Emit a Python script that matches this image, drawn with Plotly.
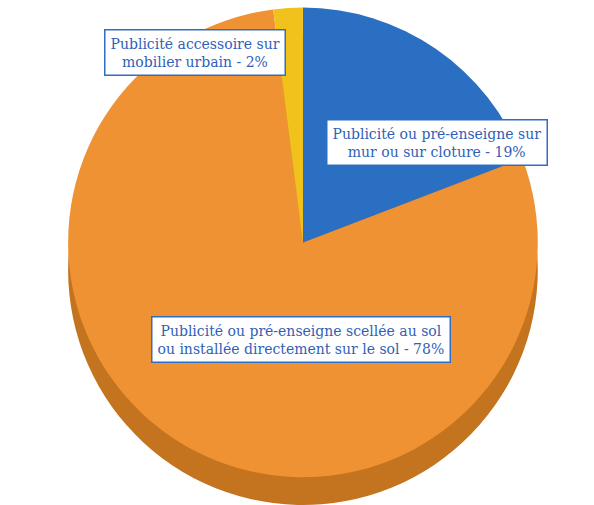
import plotly.graph_objects as go

labels = [
    "Publicité ou pré-enseigne sur<br>mur ou sur cloture",
    "Publicité ou pré-enseigne scellée au sol<br>ou installée directement sur le sol",
    "Publicité accessoire sur<br>mobilier urbain",
]
values = [19, 78, 2]
colors = ["#2b6fc2", "#ef9234", "#f1c21b"]
side_colors = ["#1f55a0", "#c4731f", "#c99d10"]
label_pos = [(0.736, 0.717), (0.507, 0.327), (0.328, 0.897)]

fig = go.Figure()
# darker copy shifted down to mimic the 3D side of the pie
fig.add_trace(go.Pie(
    labels=labels, values=values, sort=False, direction="clockwise", rotation=0,
    marker=dict(colors=side_colors, line=dict(width=0)),
    textinfo="none", hoverinfo="skip", showlegend=False,
    domain=dict(x=[0.02, 1], y=[0.0, 0.93]),
))
fig.add_trace(go.Pie(
    labels=labels, values=values, sort=False, direction="clockwise", rotation=0,
    marker=dict(colors=colors, line=dict(width=0)),
    textinfo="none", showlegend=False,
    domain=dict(x=[0.02, 1], y=[0.055, 0.985]),
))

for lab, val, (ax, ay) in zip(labels, values, label_pos):
    fig.add_annotation(
        x=ax, y=ay, xref="paper", yref="paper", showarrow=False,
        xanchor="center", yanchor="middle",
        text=f"{lab} - {val}%",
        font=dict(family="DejaVu Serif, serif", size=14, color="#2f5fb8"),
        bgcolor="white", bordercolor="#2e6fc4", borderwidth=1.5, borderpad=5,
        align="center",
    )

fig.update_layout(
    width=594, height=505, margin=dict(l=0, r=0, t=0, b=0),
    paper_bgcolor="white", plot_bgcolor="white",
)
fig.write_html("out.html")
